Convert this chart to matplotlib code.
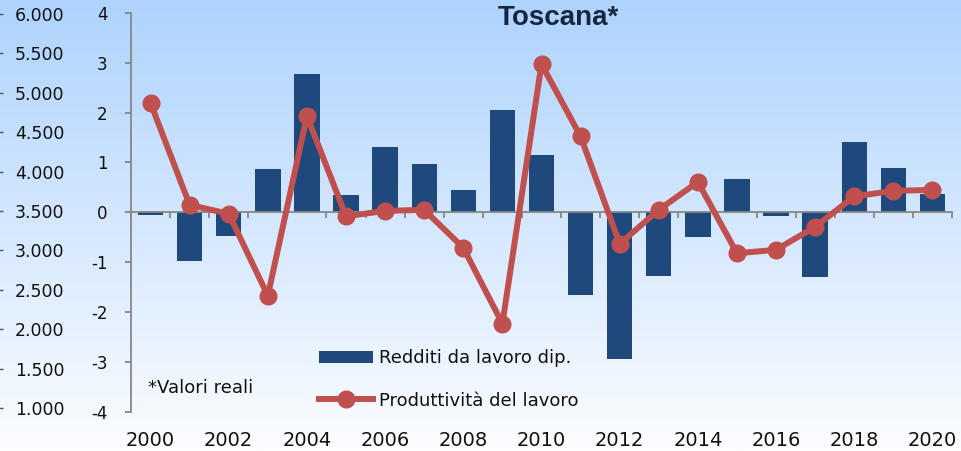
import numpy as np
import matplotlib
matplotlib.use("Agg")
import matplotlib.pyplot as plt
from matplotlib.ticker import FuncFormatter, FixedLocator

years = list(range(2000, 2021))
redditi = [-0.05, -0.97, -0.48, 0.86, 2.77, 0.34, 1.30, 0.97, 0.44, 2.06, 1.14,
           -1.65, -2.93, -1.28, -0.50, 0.66, -0.07, -1.29, 1.41, 0.88, 0.37]
produttivita = [2.19, 0.15, -0.03, -1.67, 1.93, -0.08, 0.03, 0.05, -0.71, -2.23, 2.97,
                1.52, -0.63, 0.05, 0.61, -0.82, -0.75, -0.29, 0.32, 0.43, 0.45]
inner_ticks = [-4, -3, -2, -1, 0, 1, 2, 3, 4]
outer_ticks = [1000, 1500, 2000, 2500, 3000, 3500, 4000, 4500, 5000, 5500, 6000]
year_labels = [str(y) for y in years[::2]]

W, H = 961, 451
fig = plt.figure(figsize=(W / 100, H / 100), dpi=100)

# background gradient
bg = fig.add_axes([0, 0, 1, 1])
top = np.array([174, 211, 253]) / 255
bot = np.array([252, 253, 255]) / 255
t = np.linspace(0, 1, 256)[:, None]
grad = top[None, :] * (1 - t) + bot[None, :] * t
grad = np.repeat(grad[:, None, :], 2, axis=1)
bg.imshow(grad, aspect="auto", extent=[0, 1, 0, 1], interpolation="bilinear")
bg.axis("off")

ax_left, ax_right = 131, 952
ax_top, ax_bot = 12.7, 412
ax = fig.add_axes([ax_left / W, (H - ax_bot) / H, (ax_right - ax_left) / W, (ax_bot - ax_top) / H])
ax.set_facecolor("none")

idx = np.arange(len(years))
bars = ax.bar(idx, redditi, width=0.65, color="#1F497D", zorder=2, label="Redditi da lavoro dip.")
line, = ax.plot(idx, produttivita, color="#C0504D", lw=4.3, marker="o", ms=12, zorder=4,
                label="Produttività del lavoro", solid_joinstyle="round")

ax.set_xlim(-0.5, len(years) - 0.5)
ax.set_ylim(-4, 4)
gray = "#868686"
for s in ["top", "right"]:
    ax.spines[s].set_visible(False)
ax.spines["left"].set_color(gray)
ax.spines["left"].set_linewidth(1.3)
ax.spines["bottom"].set_position(("data", 0))
ax.spines["bottom"].set_color(gray)
ax.spines["bottom"].set_linewidth(1.3)
ax.spines["bottom"].set_zorder(3)
ax.set_yticks(inner_ticks)
ax.set_yticklabels([str(v) for v in inner_ticks])
ax.tick_params(axis="y", direction="out", length=4, color=gray, width=1.3, pad=13,
               labelsize=12, labelcolor="#111111")
ax.xaxis.set_major_locator(FixedLocator(np.arange(-0.5, len(years), 1.0)))
ax.tick_params(axis="x", direction="out", length=4.5, color=gray, width=1.3, labelbottom=False)

# year labels at the bottom
sec = ax.secondary_xaxis(0)
sec.set_xticks(idx[::2])
sec.set_xticklabels(year_labels)
sec.spines["bottom"].set_visible(False)
sec.tick_params(axis="x", length=0, pad=14, labelsize=14, labelcolor="#111111")

# outer axis
ax2 = ax.twinx()
ax2.set_ylim(950, 6017)
for s in ax2.spines.values():
    s.set_visible(False)
ax2.spines["right"].set_position(("axes", (3 - ax_left) / (ax_right - ax_left)))
ax2.set_yticks(outer_ticks)
ax2.yaxis.set_major_formatter(FuncFormatter(lambda v, p: f"{int(v):,}".replace(",", ".")))
ax2.tick_params(axis="y", direction="in", length=3, color="#555555", width=1, pad=8.6,
                labelsize=12.5, labelcolor="#111111")

leg = ax.legend(handles=[bars, line], loc="center left",
                bbox_to_anchor=((319 - ax_left) / (ax_right - ax_left), (ax_bot - 379.4) / (ax_bot - ax_top)),
                frameon=False, fontsize=13, handlelength=3.0, handletextpad=0.3,
                labelspacing=1.35, borderpad=0, borderaxespad=0)
for txt in leg.get_texts():
    txt.set_color("#111111")

fig.text(148 / W, 1 - 388 / H, "*Valori reali", fontsize=13, color="#111111", va="center", ha="left")
fig.text(558 / W, 1 - 25 / H, "Toscana*", fontsize=20, fontweight="bold", color="#17263F",
         family="Liberation Sans", ha="center", va="baseline")

fig.savefig("out.png", dpi=100)
